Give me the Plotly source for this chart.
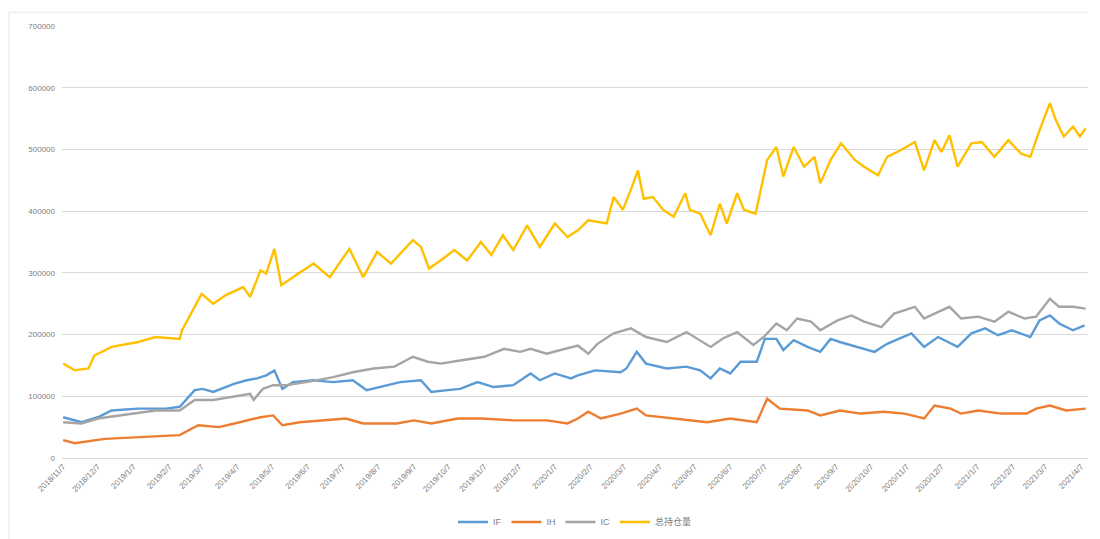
import plotly.graph_objects as go

# ---------------- data ----------------
total_dates = ["2018-11-07","2018-11-17","2018-11-29","2018-12-04","2018-12-19","2019-01-11","2019-01-26",
    "2019-02-16","2019-02-18","2019-03-01","2019-03-07","2019-03-17","2019-03-28","2019-04-12","2019-04-18",
    "2019-04-27","2019-05-02","2019-05-09","2019-05-15","2019-05-25","2019-06-06","2019-06-12","2019-06-26",
    "2019-07-13","2019-07-25","2019-08-06","2019-08-18","2019-08-26","2019-09-06","2019-09-13","2019-09-20",
    "2019-09-30","2019-10-12","2019-10-23","2019-11-04","2019-11-13","2019-11-23","2019-12-02","2019-12-14",
    "2019-12-25","2020-01-07","2020-01-18","2020-01-27","2020-02-05","2020-02-21","2020-02-27","2020-03-06",
    "2020-03-15","2020-03-19","2020-03-24","2020-04-01","2020-04-10","2020-04-19","2020-04-29","2020-05-03",
    "2020-05-12","2020-05-21","2020-05-29","2020-06-04","2020-06-13","2020-06-19","2020-06-29","2020-07-03",
    "2020-07-09","2020-07-17","2020-07-23","2020-08-01","2020-08-10","2020-08-19","2020-08-24","2020-09-02",
    "2020-09-11","2020-09-23","2020-10-01","2020-10-13","2020-10-21","2020-11-02","2020-11-14","2020-11-22",
    "2020-12-01","2020-12-07","2020-12-14","2020-12-21","2021-01-02","2021-01-11","2021-01-22","2021-02-03",
    "2021-02-14","2021-02-22","2021-03-02","2021-03-11","2021-03-16","2021-03-23","2021-03-31","2021-04-06",
    "2021-04-11"]
total_vals = [153000,142000,145000,166000,180000,188000,196000,
    193000,207000,245000,266000,250000,264000,277000,261000,
    304000,299000,339000,280000,293000,307000,315000,293000,
    339000,293000,334000,315000,331000,353000,342000,307000,
    320000,337000,320000,350000,329000,361000,337000,377000,
    342000,380000,358000,369000,385000,380000,423000,402000,
    445000,466000,420000,423000,402000,391000,429000,402000,
    396000,361000,412000,380000,429000,402000,396000,429000,
    483000,504000,456000,504000,472000,488000,445000,483000,
    510000,483000,472000,458000,488000,499000,512000,466000,
    515000,496000,523000,472000,510000,512000,488000,515000,
    493000,488000,531000,575000,548000,521000,537000,521000,
    534000]

if_dates = ["2018-11-07","2018-11-23","2018-12-07","2018-12-19","2019-01-11","2019-02-04","2019-02-16",
    "2019-03-01","2019-03-08","2019-03-17","2019-04-04","2019-04-15","2019-04-24","2019-05-02","2019-05-09",
    "2019-05-16","2019-05-25","2019-06-12","2019-06-29","2019-07-16","2019-07-28","2019-08-15","2019-08-26",
    "2019-09-13","2019-09-22","2019-10-06","2019-10-17","2019-11-01","2019-11-15","2019-12-02","2019-12-17",
    "2019-12-25","2020-01-07","2020-01-21","2020-01-27","2020-02-11","2020-03-04","2020-03-09","2020-03-18",
    "2020-03-26","2020-04-13","2020-04-30","2020-05-12","2020-05-21","2020-05-29","2020-06-07","2020-06-16",
    "2020-06-30","2020-07-07","2020-07-17","2020-07-23","2020-08-01","2020-08-13","2020-08-24","2020-09-02",
    "2020-09-10","2020-09-20","2020-10-10","2020-10-21","2020-11-11","2020-11-22","2020-12-04","2020-12-21",
    "2021-01-02","2021-01-14","2021-01-25","2021-02-06","2021-02-22","2021-03-02","2021-03-11","2021-03-19",
    "2021-03-31","2021-04-10"]
if_vals = [66000,58000,66000,77000,80000,80000,83000,
    110000,112000,107000,120000,126000,129000,134000,142000,
    112000,123000,126000,123000,126000,110000,118000,123000,
    126000,107000,110000,112000,123000,115000,118000,137000,
    126000,137000,129000,134000,142000,139000,145000,172000,
    153000,145000,148000,142000,129000,145000,137000,156000,
    156000,193000,193000,175000,191000,180000,172000,193000,
    188000,183000,172000,185000,202000,180000,196000,180000,
    202000,210000,199000,207000,196000,223000,231000,218000,
    207000,215000]

ih_dates = ["2018-11-07","2018-11-17","2018-12-13","2019-01-11","2019-02-16","2019-03-04","2019-03-22",
    "2019-04-09","2019-04-27","2019-05-08","2019-05-16","2019-05-31","2019-06-12","2019-07-10","2019-07-25",
    "2019-08-23","2019-09-07","2019-09-22","2019-10-15","2019-11-04","2019-12-02","2019-12-31","2020-01-18",
    "2020-01-27","2020-02-05","2020-02-16","2020-03-04","2020-03-18","2020-03-26","2020-04-19","2020-05-18",
    "2020-06-07","2020-06-30","2020-07-09","2020-07-20","2020-08-13","2020-08-24","2020-09-10","2020-09-28",
    "2020-10-18","2020-11-05","2020-11-22","2020-12-01","2020-12-15","2020-12-24","2021-01-08","2021-01-28",
    "2021-02-19","2021-02-27","2021-03-11","2021-03-25","2021-04-11"]
ih_vals = [29000,24000,31000,34000,37000,53000,50000,
    58000,66000,69000,53000,58000,60000,64000,56000,
    56000,61000,56000,64000,64000,61000,61000,56000,
    64000,75000,64000,72000,80000,69000,64000,58000,
    64000,58000,96000,80000,77000,69000,77000,72000,
    75000,72000,64000,85000,80000,72000,77000,72000,
    72000,80000,85000,77000,80000]

ic_dates = ["2018-11-07","2018-11-23","2018-12-07","2018-12-27","2019-01-26","2019-02-16","2019-03-01",
    "2019-03-17","2019-04-09","2019-04-18","2019-04-21","2019-04-29","2019-05-08","2019-05-19","2019-06-12",
    "2019-06-29","2019-07-16","2019-08-03","2019-08-21","2019-09-06","2019-09-19","2019-09-30","2019-10-17",
    "2019-11-07","2019-11-24","2019-12-08","2019-12-17","2019-12-31","2020-01-12","2020-01-27","2020-02-05",
    "2020-02-13","2020-02-27","2020-03-13","2020-03-26","2020-04-13","2020-04-30","2020-05-21","2020-06-01",
    "2020-06-13","2020-06-27","2020-07-06","2020-07-17","2020-07-26","2020-08-04","2020-08-16","2020-08-24",
    "2020-09-08","2020-09-20","2020-10-01","2020-10-16","2020-10-27","2020-11-14","2020-11-22","2020-12-01",
    "2020-12-14","2020-12-24","2021-01-08","2021-01-22","2021-02-03","2021-02-17","2021-02-27","2021-03-11",
    "2021-03-19","2021-03-31","2021-04-11"]
ic_vals = [58000,56000,64000,69000,77000,77000,94000,
    94000,102000,104000,94000,112000,118000,118000,125000,
    131000,139000,145000,148000,164000,156000,153000,158000,
    164000,177000,172000,177000,169000,175000,182000,169000,
    185000,202000,210000,196000,188000,204000,180000,194000,
    204000,183000,196000,218000,207000,226000,221000,207000,
    223000,231000,221000,212000,234000,245000,226000,234000,
    245000,226000,229000,221000,237000,226000,229000,258000,
    245000,245000,242000]

series_names = ["IF", "IH", "IC", "总持仓量"]
series_colors = ["#5B9BD5", "#ED7D31", "#A5A5A5", "#FFC000"]

tick_dates = []
tick_labels = []
for i in range(30):
    y = 2018 + (10 + i) // 12
    m = (10 + i) % 12 + 1
    tick_dates.append(f"{y}-{m:02d}-07")
    tick_labels.append(f"{y}/{m}/7")

y_ticks = [0, 100000, 200000, 300000, 400000, 500000, 600000, 700000]

# ---------------- figure ----------------
fig = go.Figure()
all_series = [(if_dates, if_vals), (ih_dates, ih_vals), (ic_dates, ic_vals), (total_dates, total_vals)]
for (d, v), name, col in zip(all_series, series_names, series_colors):
    fig.add_trace(go.Scatter(x=d, y=v, mode="lines", name=name,
                             line=dict(color=col, width=2.4)))

fig.update_layout(
    width=1100, height=539,
    margin=dict(l=54, r=20, t=18, b=89, autoexpand=False),
    paper_bgcolor="white", plot_bgcolor="white",
    font=dict(family="Liberation Sans, Noto Sans CJK SC, sans-serif", size=8, color="#808080"),
    showlegend=True,
    legend=dict(orientation="h", x=0.5, xanchor="center", y=-0.148, yanchor="middle",
                font=dict(size=9, color="#808080"), itemwidth=30, tracegroupgap=0),
    xaxis=dict(type="date", range=["2018-11-06", "2021-04-13"], automargin=False,
               tickvals=tick_dates, ticktext=tick_labels, tickangle=-45,
               showgrid=False, showline=True, linecolor="#D9D9D9", linewidth=1,
               ticks="", tickfont=dict(size=8, color="#808080")),
    yaxis=dict(range=[0, 700000], tickvals=y_ticks, ticktext=[str(t) for t in y_ticks],
               automargin=False, ticklabelstandoff=6,
               showgrid=True, gridcolor="#D9D9D9", gridwidth=1, zeroline=False,
               showline=False, ticks="", tickfont=dict(size=8, color="#808080")),
    shapes=[dict(type="line", xref="paper", yref="paper", x0=-0.0517, x1=-0.0517, y0=-0.19, y1=1.032,
                 line=dict(color="#E6E6E6", width=1)),
            dict(type="line", xref="paper", yref="paper", x0=-0.0517, x1=1.0, y0=1.032, y1=1.032,
                 line=dict(color="#E6E6E6", width=1))],
)

fig.write_html("out.html")
